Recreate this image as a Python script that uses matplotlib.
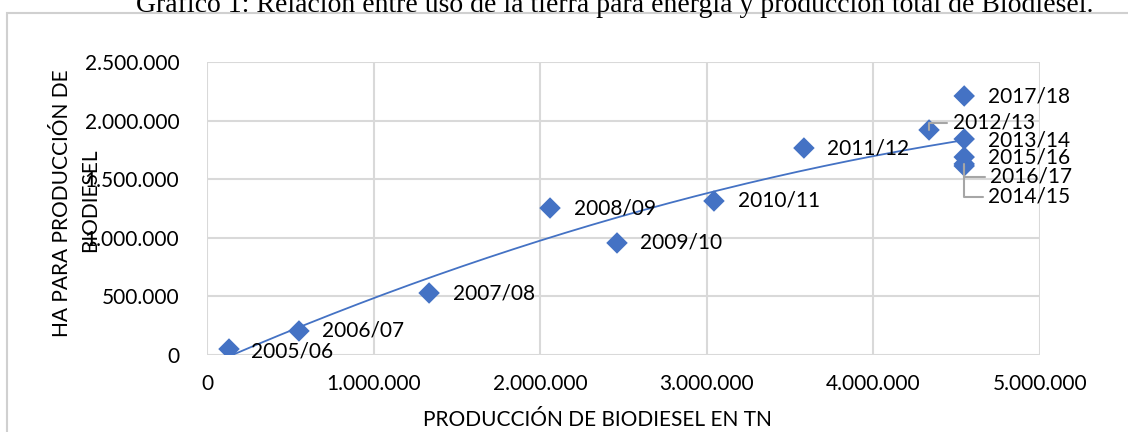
import numpy as np
import matplotlib.pyplot as plt
from matplotlib.ticker import FuncFormatter
from matplotlib.patches import Rectangle

campanas = ['2005/06', '2006/07', '2007/08', '2008/09', '2009/10', '2010/11',
            '2011/12', '2012/13', '2013/14', '2014/15', '2015/16', '2016/17', '2017/18']
produccion_tn = [132000, 552000, 1333000, 2059000, 2461000, 3043000,
                 3583000, 4334000, 4545000, 4545000, 4545000, 4545000, 4545000]
hectareas = [51000, 205000, 529000, 1254000, 956000, 1314000,
             1766000, 1920000, 1843000, 1630000, 1689000, 1613000, 2210000]

# label offsets in pixels (dx, dy) and whether a leader line is drawn
offsets = {'2005/06': (22, -2), '2006/07': (23, 0), '2007/08': (24, 0), '2008/09': (24, 0),
           '2009/10': (23, 0), '2010/11': (24, 0), '2011/12': (23, 0), '2012/13': (24, 7),
           '2013/14': (24, -1), '2014/15': (24, -33), '2015/16': (24, 0), '2016/17': (26, -11),
           '2017/18': (24, -1)}
leaders = {'2012/13', '2014/15', '2016/17'}

azul = '#4472C4'
fs = 15
plt.rcParams['font.family'] = ['Lato', 'DejaVu Sans']

fig = plt.figure(figsize=(11.28, 4.32), dpi=100)
ax = fig.add_axes([207/1128, 1-355/432, (1040-207)/1128, (355-62)/432])

fig.patches.append(Rectangle((7/1128, -0.1), 1.2, 1-13/432+0.1, transform=fig.transFigure,
                             fill=False, edgecolor='#D0D0D0', linewidth=1.5))

x = np.array(produccion_tn, dtype=float)
y = np.array(hectareas, dtype=float)
coef = np.polyfit(x, y, 2)
xs = np.linspace(x.min(), x.max(), 200)
ax.plot(xs, np.polyval(coef, xs), color=azul, linewidth=1.3, zorder=2)

ax.scatter(x, y, marker='D', s=120, color=azul, edgecolors='none', zorder=3)

for lab, xi, yi in zip(campanas, produccion_tn, hectareas):
    dx, dy = offsets[lab]
    if lab in leaders:
        ax.annotate(lab, (xi, yi), xytext=(dx, dy), textcoords='offset pixels',
                    ha='left', va='center', fontsize=fs,
                    arrowprops=dict(arrowstyle='-', color='#A6A6A6', lw=1.5,
                                    connectionstyle='angle,angleA=0,angleB=90,rad=0',
                                    shrinkA=2, shrinkB=0))
    else:
        ax.annotate(lab, (xi, yi), xytext=(dx, dy), textcoords='offset pixels',
                    ha='left', va='center', fontsize=fs)

ax.set_xlim(0, 5000000)
ax.set_ylim(0, 2500000)
ax.set_xticks(np.arange(0, 5000001, 1000000))
ax.set_yticks(np.arange(0, 2500001, 500000))
fmt = FuncFormatter(lambda v, p: f'{int(v):,}'.replace(',', '.'))
ax.xaxis.set_major_formatter(fmt)
ax.yaxis.set_major_formatter(fmt)
ax.tick_params(length=0, labelsize=fs)
ax.tick_params(axis='y', pad=20)
ax.tick_params(axis='x', pad=14)
ax.grid(True, color='#D9D9D9', linewidth=1.5)
ax.set_axisbelow(True)
for s in ax.spines.values():
    s.set_visible(False)

fig.text(62/1128, 1-203/432, 'HA PARA PRODUCCIÓN DE', rotation=90, ha='center', va='center', fontsize=fs)
fig.text(90/1128, 1-200/432, 'BIODIESEL', rotation=90, ha='center', va='center', fontsize=fs)
fig.text(597/1128, 1-420/432, 'PRODUCCIÓN DE BIODIESEL EN TN', ha='center', va='center', fontsize=fs)

fig.text(615/1128, 1-12/432,
         'Gráfico 1: Relación entre uso de la tierra para energía y producción total de Biodiesel.',
         ha='center', va='baseline', fontsize=20, family='Liberation Serif')

fig.savefig('out.png', dpi=100)
